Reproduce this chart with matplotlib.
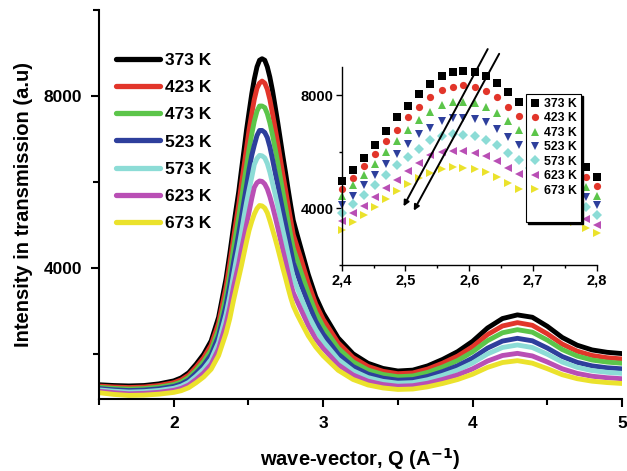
import numpy as np
import matplotlib
matplotlib.use("Agg")
import matplotlib.pyplot as plt
from matplotlib.ticker import MultipleLocator, FuncFormatter
from matplotlib.patches import Rectangle
from matplotlib.transforms import offset_copy

plt.rcParams["font.family"] = ["Liberation Sans", "DejaVu Sans"]
plt.rcParams["font.weight"] = "bold"

# wave-vector grid (A^-1); the dense part 2.40-2.80 is also shown in the inset
q = [1.50, 1.60, 1.70, 1.80, 1.90, 2.00, 2.05, 2.10, 2.15, 2.20, 2.25, 2.30, 2.35, 2.375,
     2.400, 2.417, 2.435, 2.452, 2.470, 2.487, 2.504, 2.522, 2.539, 2.557, 2.574, 2.591,
     2.609, 2.626, 2.643, 2.661, 2.678, 2.696, 2.713, 2.730, 2.748, 2.765, 2.783, 2.800,
     2.825, 2.85, 2.90, 2.95, 3.00, 3.10, 3.20, 3.30, 3.40, 3.50, 3.60, 3.70, 3.80, 3.90,
     4.00, 4.10, 4.20, 4.30, 4.40, 4.50, 4.60, 4.70, 4.80, 4.90, 5.00]

temps = ["373 K", "423 K", "473 K", "523 K", "573 K", "623 K", "673 K"]

i373 = [1280, 1262, 1252, 1262, 1300, 1370, 1440, 1560, 1760, 1990, 2300, 2850, 3750, 4330,
        4960, 5362, 5776, 6250, 6735, 7208, 7622, 8048, 8391, 8675, 8829, 8864,
        8829, 8675, 8438, 8119, 7764, 7378, 6992, 6606, 6220, 5834, 5445, 5102,
        4780, 4470, 3850, 3330, 2950, 2370, 2000, 1780, 1660, 1600, 1620, 1720, 1870, 2050,
        2290, 2600, 2820, 2905, 2850, 2640, 2380, 2200, 2090, 2035, 2005]
i423 = [1250, 1228, 1215, 1227, 1262, 1328, 1393, 1506, 1693, 1909, 2199, 2714, 3558, 4101,
        4688, 5079, 5481, 5930, 6368, 6782, 7208, 7587, 7918, 8178, 8296, 8344,
        8296, 8154, 7918, 7587, 7255, 6896, 6537, 6178, 5819, 5460, 5102, 4771,
        4500, 4226, 3645, 3158, 2802, 2258, 1912, 1706, 1593, 1537, 1555, 1646, 1783, 1947,
        2165, 2447, 2647, 2725, 2663, 2465, 2226, 2061, 1961, 1909, 1880]
i473 = [1220, 1195, 1180, 1191, 1224, 1284, 1345, 1449, 1621, 1820, 2088, 2563, 3341, 3842,
        4452, 4806, 5185, 5575, 5989, 6368, 6758, 7113, 7409, 7646, 7764, 7764,
        7728, 7587, 7374, 7089, 6782, 6443, 6104, 5765, 5426, 5087, 4747, 4452,
        4190, 3920, 3411, 2962, 2633, 2132, 1813, 1623, 1519, 1467, 1484, 1568, 1693, 1844,
        2045, 2305, 2489, 2561, 2503, 2319, 2099, 1948, 1855, 1807, 1780]
i523 = [1190, 1162, 1145, 1156, 1186, 1241, 1297, 1392, 1551, 1734, 1980, 2416, 3131, 3592,
        4132, 4452, 4806, 5161, 5552, 5906, 6285, 6616, 6853, 7078, 7196, 7196,
        7149, 7031, 6818, 6522, 6226, 5924, 5622, 5320, 5018, 4716, 4416, 4120,
        3880, 3620, 3173, 2760, 2458, 1997, 1704, 1529, 1434, 1386, 1401, 1476, 1587, 1722,
        1901, 2132, 2296, 2360, 2302, 2134, 1937, 1801, 1719, 1675, 1650]
i573 = [1160, 1130, 1110, 1120, 1147, 1198, 1249, 1335, 1480, 1646, 1869, 2267, 2916, 3335,
        3836, 4156, 4475, 4806, 5185, 5516, 5812, 6108, 6403, 6545, 6616, 6605,
        6557, 6427, 6226, 5966, 5717, 5437, 5157, 4877, 4597, 4317, 4037, 3777,
        3540, 3320, 2900, 2565, 2291, 1872, 1605, 1446, 1359, 1316, 1330, 1398, 1500, 1622,
        1786, 1997, 2147, 2205, 2146, 1990, 1808, 1685, 1609, 1569, 1545]
i623 = [1130, 1095, 1070, 1080, 1104, 1150, 1196, 1274, 1404, 1554, 1756, 2115, 2702, 3080,
        3560, 3824, 4096, 4416, 4712, 5008, 5303, 5611, 5871, 5980, 6020, 6010,
        5950, 5835, 5658, 5433, 5197, 4935, 4673, 4411, 4149, 3887, 3623, 3422,
        3230, 3040, 2660, 2350, 2126, 1748, 1507, 1363, 1285, 1246, 1258, 1316, 1404, 1509,
        1650, 1831, 1960, 2010, 1950, 1809, 1651, 1544, 1478, 1443, 1420]
i673 = [1095, 1055, 1032, 1039, 1061, 1102, 1142, 1212, 1328, 1461, 1641, 1960, 2482, 2819,
        3245, 3505, 3777, 4037, 4333, 4610, 4870, 5080, 5250, 5380, 5450, 5440,
        5390, 5280, 5100, 4890, 4688, 4457, 4226, 3995, 3764, 3533, 3304, 3115,
        2920, 2750, 2420, 2160, 1954, 1618, 1403, 1275, 1206, 1171, 1181, 1233, 1310, 1402,
        1525, 1684, 1797, 1840, 1782, 1654, 1514, 1421, 1363, 1331, 1310]

colors = ["#000000", "#e2352a", "#5cc54a", "#2e3f9c", "#8cdcd6", "#b94fb5", "#ebe22c"]
markers = ["s", "o", "^", "v", "D", "<", ">"]
series = [i373, i423, i473, i523, i573, i623, i673]

fig = plt.figure(figsize=(6.27, 4.71), dpi=100)
ax = fig.add_axes([0.158, 0.153, 0.834, 0.826])

qa = np.array(q)
for lab, c, y in zip(temps, colors, series):
    ax.plot(qa, y, color=c, lw=3.5, label=lab, solid_capstyle="round")

ax.set_xlim(1.5, 5.0)
ax.set_ylim(950, 10000)
ax.xaxis.set_major_locator(MultipleLocator(1))
ax.xaxis.set_minor_locator(MultipleLocator(0.5))
ax.yaxis.set_major_locator(MultipleLocator(4000))
ax.yaxis.set_minor_locator(MultipleLocator(2000))
for s in ["top", "right"]:
    ax.spines[s].set_visible(False)
for s in ["left", "bottom"]:
    ax.spines[s].set_linewidth(1.5)
ax.tick_params(which="major", direction="out", length=6, width=1.5, labelsize=12.5, pad=6)
ax.tick_params(which="minor", direction="out", length=4, width=1.5)
ax.set_xlabel("wave-vector, Q (A$^{\\mathbf{-1}}$)", fontsize=14.5, fontweight="bold",
              labelpad=11)
ax.set_ylabel("Intensity in transmission (a.u)", fontsize=14.5, fontweight="bold",
              labelpad=8)

leg = ax.legend(loc="upper left", bbox_to_anchor=(0.02, 0.907), frameon=False,
                fontsize=12.5, handlelength=2.5, handletextpad=0.3, labelspacing=0.69,
                borderaxespad=0)
for h in leg.get_lines():
    h.set_linewidth(3.8)

# zoom on the main peak
axi = fig.add_axes([0.545, 0.4374, 0.4067, 0.421])
mask = (qa > 2.39) & (qa < 2.81)
for lab, c, m, y in zip(temps, colors, markers, series):
    axi.plot(qa[mask], np.array(y)[mask], ls="none", marker=m, ms=5.2, mfc=c, mec=c,
             mew=0, label=lab, clip_on=False)
axi.set_xlim(2.4, 2.8)
axi.set_ylim(2000, 9000)
axi.xaxis.set_major_locator(MultipleLocator(0.1))
axi.xaxis.set_minor_locator(MultipleLocator(0.05))
axi.yaxis.set_major_locator(MultipleLocator(4000))
axi.yaxis.set_minor_locator(MultipleLocator(2000))
axi.xaxis.set_major_formatter(FuncFormatter(lambda v, p: f"{v:.1f}".replace(".", ",")))
for s in ["top", "right"]:
    axi.spines[s].set_visible(False)
for s in ["left", "bottom"]:
    axi.spines[s].set_linewidth(1.0)
axi.tick_params(which="major", direction="out", length=4, width=1.0, labelsize=10.5, pad=2)
axi.tick_params(which="minor", direction="out", length=2.5, width=1.0)
axi.patch.set_alpha(0)

# legend box of the inset, with a drop shadow
bx, by, bw, bh = 0.723, 0.218, 0.214, 0.643
shadow = Rectangle((bx, by), bw, bh, transform=offset_copy(axi.transAxes, fig=fig, x=2.2, y=-2.2,
                   units="dots"), facecolor="black", edgecolor="black", zorder=5, clip_on=False)
box = Rectangle((bx, by), bw, bh, transform=axi.transAxes, facecolor="white",
                edgecolor="black", lw=0.8, zorder=6, clip_on=False)
axi.add_patch(shadow)
axi.add_patch(box)
ileg = axi.legend(loc="upper left", bbox_to_anchor=(bx, by + bh), fontsize=8.8,
                  frameon=False, handlelength=0.8, handletextpad=0.4, labelspacing=0.2,
                  borderpad=0.3, borderaxespad=0)
ileg.set_zorder(7)

# arrows showing the drop of the peak with temperature
for x0, y0, x1, y1 in [(2.629, 9622, 2.497, 4070), (2.647, 9455, 2.513, 3918)]:
    axi.annotate("", xy=(x1, y1), xytext=(x0, y0), annotation_clip=False,
                 arrowprops=dict(arrowstyle="-|>", lw=1.4, color="black",
                                 mutation_scale=8, shrinkA=0, shrinkB=0))

fig.savefig("out.png", dpi=100)
